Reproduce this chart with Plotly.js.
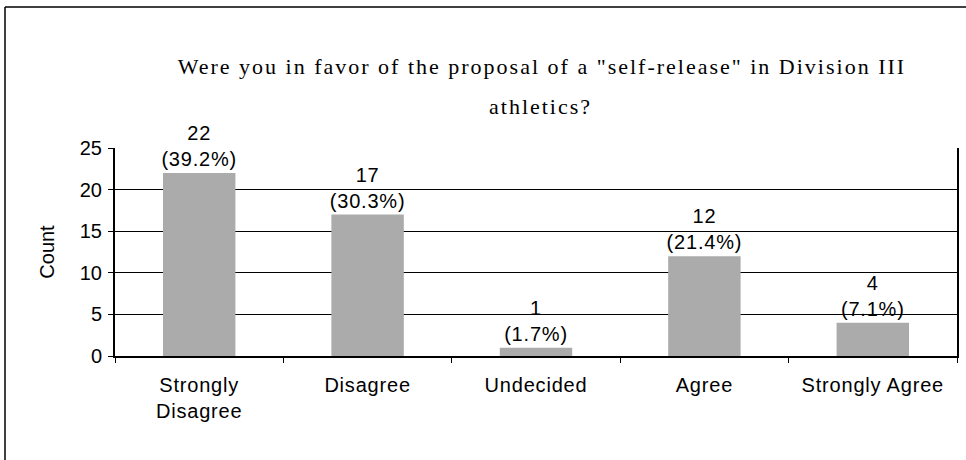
<!DOCTYPE html>
<html>
<head>
<meta charset="utf-8">
<script src="https://cdn.plot.ly/plotly-3.0.1.min.js"></script>
<style>
html,body{margin:0;padding:0;background:#fff;}
#chart{width:966px;height:460px;}
#chart .gtitle, #chart .annotation-text{letter-spacing:2px;}
#chart .xtick text, #chart .bartext{letter-spacing:0.8px;}
</style>
</head>
<body>
<div id="chart"></div>
<script>
const categories = ["Strongly<br>Disagree", "Disagree", "Undecided", "Agree", "Strongly Agree"];
const counts = [22, 17, 1, 12, 4];
const percents = ["39.2%", "30.3%", "1.7%", "21.4%", "7.1%"];
const yTicks = [0, 5, 10, 15, 20, 25];
const titleLine1 = 'Were you in favor of the proposal of a "self-release" in Division III';
const titleLine2 = 'athletics?';

const labels = counts.map((c, i) => c + "<br>(" + percents[i] + ")");

const sans = "Liberation Sans, Arial, sans-serif";
const serif = "Liberation Serif, Times New Roman, serif";

const trace = {
  type: "bar",
  x: categories,
  y: counts,
  text: labels,
  textposition: "outside",
  cliponaxis: false,
  textfont: {family: sans, size: 20, color: "#000"},
  marker: {color: "#ababab", line: {width: 0}},
  width: 0.43,
  hoverinfo: "none"
};

const layout = {
  width: 966, height: 460,
  margin: {l: 115, r: 9, t: 148, b: 104},
  paper_bgcolor: "#fff", plot_bgcolor: "#fff",
  showlegend: false,
  font: {family: sans, size: 20, color: "#000"},
  title: {
    text: titleLine1,
    font: {family: serif, size: 22, color: "#000"},
    x: 0.561, xanchor: "center", y: 1 - 66/460, yanchor: "middle"
  },
  annotations: [{
    text: titleLine2, xref: "paper", yref: "paper",
    x: 0.505, y: (356 - 106) / 208, xanchor: "center", yanchor: "middle",
    showarrow: false,
    font: {family: serif, size: 22, color: "#000"}
  }],
  xaxis: {
    type: "category",
    showgrid: false,
    showline: true, linecolor: "#000", linewidth: 2,
    ticks: "outside", tickson: "boundaries", ticklen: 5, tickcolor: "#000", tickwidth: 1,
    ticklabelstandoff: 10,
    tickfont: {family: sans, size: 20, color: "#000"},
    automargin: false
  },
  yaxis: {
    range: [0, 25],
    tickvals: yTicks,
    ticktext: yTicks.map(String),
    showgrid: true, gridcolor: "#000", gridwidth: 1,
    zeroline: false,
    showline: true, linecolor: "#000", linewidth: 2,
    mirror: true,
    ticks: "outside", ticklen: 5, tickcolor: "#000",
    ticklabelstandoff: 2,
    tickfont: {family: sans, size: 20, color: "#000"},
    title: {text: "Count", font: {family: sans, size: 20, color: "#000"}, standoff: 20},
    automargin: false
  },
  shapes: [
    {type: "line", xref: "paper", yref: "paper", x0: (5 - 115) / 842, x1: (966 - 115) / 842, y0: (356 - 7) / 208, y1: (356 - 7) / 208, line: {color: "#000", width: 1.5}},
    {type: "line", xref: "paper", yref: "paper", x0: (5 - 115) / 842, x1: (5 - 115) / 842, y0: (356 - 7) / 208, y1: (356 - 460) / 208, line: {color: "#000", width: 1.5}}
  ]
};

Plotly.newPlot("chart", [trace], layout, {staticPlot: true, displayModeBar: false});
</script>
</body>
</html>
